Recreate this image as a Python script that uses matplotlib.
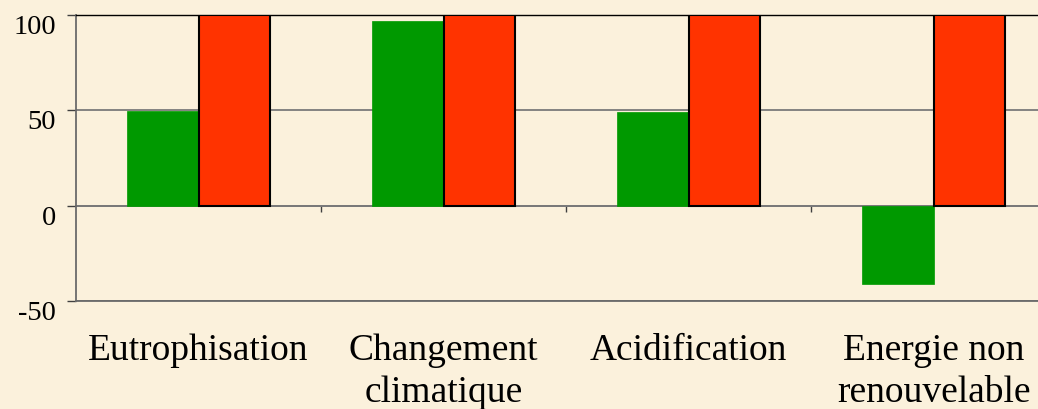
import matplotlib
matplotlib.use("Agg")
import matplotlib.pyplot as plt
import matplotlib.transforms as mtransforms
import numpy as np

# donnees
categories = ["Eutrophisation", "Changement\nclimatique", "Acidification", "Energie non\nrenouvelable"]
serie_verte = [49.5, 96.7, 49.2, -41.3]
serie_rouge = [100, 100, 100, 100]
yticks = [-50, 0, 50, 100]

fond = "#FBF1DC"
vert = "#009900"
rouge = "#FF3300"

plt.rcParams['font.family'] = ['Liberation Serif', 'DejaVu Serif']

fig = plt.figure(figsize=(10.38, 4.10), dpi=100, facecolor=fond)
ax = fig.add_axes([76 / 1038, 108 / 410, 980 / 1038, 286 / 410])
ax.set_facecolor(fond)

x = np.arange(len(categories))
w = 0.29
ax.bar(x - w / 2, serie_verte, width=w, color=vert, edgecolor=vert, linewidth=0.5, zorder=3)
ax.bar(x + w / 2, serie_rouge, width=w, color=rouge, edgecolor="black", linewidth=1.5, zorder=3)

ax.set_xlim(-0.5, len(categories) - 0.5)
ax.set_ylim(-50, 100)
ax.set_yticks(yticks)
ax.set_yticklabels([])
ax.tick_params(axis='y', length=6.5, width=1, color="#404040")

# libelles de l'axe y places sous la ligne, comme dans l'original
trans = mtransforms.blended_transform_factory(ax.transAxes, ax.transData)
trans = trans + mtransforms.ScaledTranslation(-0.20, 0.01, fig.dpi_scale_trans)
for v in yticks:
    ax.text(0, v, str(v), transform=trans, ha='right', va='top', fontsize=20.5)

ax.grid(axis='y', color="#7a7a7a", linewidth=1.3, zorder=1)
ax.set_axisbelow(True)

ax.set_xticks(x)
ax.set_xticklabels(categories, fontsize=27, linespacing=1.25)
ax.tick_params(axis='x', length=0, pad=23)

for s in ["left", "bottom"]:
    ax.spines[s].set_color("#6a6a6a")
    ax.spines[s].set_linewidth(1.3)
ax.spines["top"].set_color("black")
ax.spines["top"].set_linewidth(1.0)
ax.spines["right"].set_visible(False)

# axe des categories qui passe par 0, graduations entre les categories
sec = ax.secondary_xaxis(0, transform=ax.transData)
sec.set_xticks(x[:-1] + 0.5)
sec.set_xticklabels([])
sec.tick_params(axis='x', length=4.5, width=1, color="#404040", direction='out')
sec.spines["bottom"].set_color("#6a6a6a")
sec.spines["bottom"].set_linewidth(1.3)

fig.savefig("out.png", dpi=100, facecolor=fond)
